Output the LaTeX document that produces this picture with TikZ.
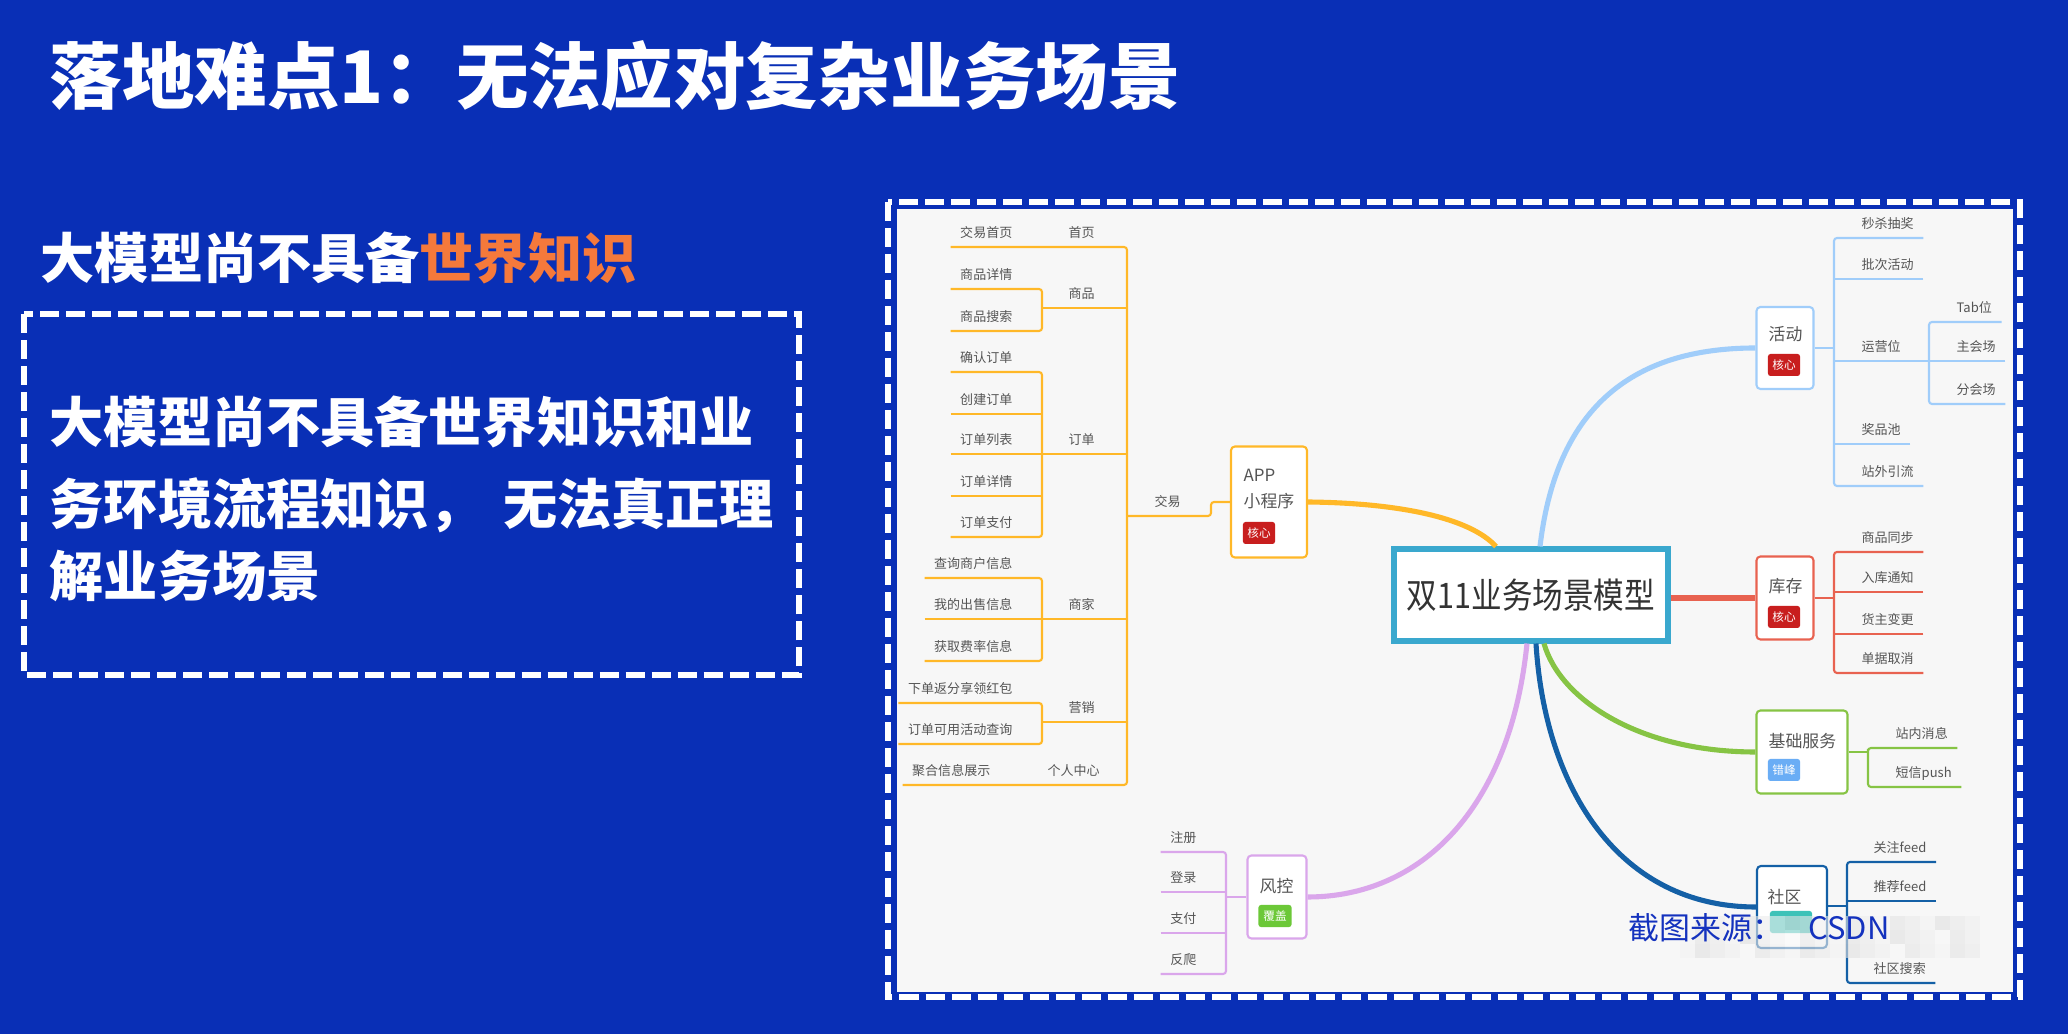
\documentclass[tikz,border=0pt]{standalone}
\usepackage{fontspec}
\usetikzlibrary{calc}
\newfontfamily\cjk{Noto Sans CJK SC}
\definecolor{slideblue}{RGB}{9,47,182}
\definecolor{hiorange}{RGB}{245,121,59}
\definecolor{shotgray}{RGB}{247,247,247}
\definecolor{textgray}{RGB}{85,85,85}
\definecolor{coreteal}{RGB}{58,168,206}
\definecolor{mmorange}{RGB}{255,184,40}
\definecolor{mmsky}{RGB}{160,205,250}
\definecolor{mmred}{RGB}{232,98,80}
\definecolor{mmgreen}{RGB}{134,196,68}
\definecolor{mmnavy}{RGB}{20,96,166}
\definecolor{mmpurple}{RGB}{218,166,235}
\definecolor{tagred}{RGB}{200,30,30}
\definecolor{taggreen}{RGB}{108,200,56}
\definecolor{tagblue}{RGB}{106,173,245}
\definecolor{tagteal}{RGB}{60,194,184}
\definecolor{markblue}{RGB}{20,50,190}
\newcommand{\titlefont}{\cjk\bfseries\fontsize{20.6pt}{24pt}\selectfont}
\newcommand{\subfont}{\cjk\bfseries\fontsize{15.4pt}{18pt}\selectfont}
\newcommand{\mmleaf}{\cjk\fontsize{3.7pt}{4.4pt}\selectfont}
\newcommand{\mmcat}{\cjk\fontsize{4.8pt}{8pt}\selectfont}
\newcommand{\mmbadge}{\cjk\fontsize{3.3pt}{4pt}\selectfont}
\newcommand{\mmcore}{\cjk\fontsize{10pt}{12pt}\selectfont}
\newcommand{\markfont}{\cjk\fontsize{8.8pt}{10pt}\selectfont}

\begin{document}
\begin{tikzpicture}[
    x=0.01cm, y=-0.01cm,
    % Styles
    leaf/.style={font=\mmleaf, text=textgray, inner xsep=0.09cm, inner ysep=0.07cm,
        text height=0.11cm, text depth=0.02cm, anchor=south east},
    rleaf/.style={leaf, anchor=south west},
    catbox/.style={draw=#1, line width=0.6pt, rounded corners=0.04cm, fill=white, inner sep=0pt},
    cattext/.style={font=\mmcat, text=textgray, inner sep=0pt, anchor=west, align=left},
    badge/.style={fill=#1, rounded corners=0.025cm, text=white, font=\mmbadge,
        minimum width=0.32cm, minimum height=0.22cm, inner sep=0pt},
    core/.style={draw=coreteal, line width=1.7pt, fill=white, minimum width=2.74cm,
        minimum height=0.91cm, inner sep=0pt, font=\mmcore, text=black!80},
    twig/.style={draw=#1, line width=0.6pt, rounded corners=0.03cm},
    bough/.style={draw=#1, line width=1.45pt},
    dashframe/.style={draw=white, line width=1.45pt, dash pattern=on 0.19cm off 0.07cm},
    slidetext/.style={anchor=west, inner sep=0pt, text=white, font=\subfont}
]

    % --- 1. Slide background and left column ---
    \useasboundingbox (0,0) rectangle (2068,1034);
    \fill[slideblue] (0,0) rectangle (2068,1034);

    \node[anchor=west, inner sep=0pt, text=white, font=\titlefont] (title) at (49,76)
        {落地难点1：无法应对复杂业务场景};
    \node[slidetext] (subtitle) at (40,258) {大模型尚不具备\textcolor{hiorange}{世界知识}};

    \draw[dashframe] (24,314) rectangle (799,675);
    \node[slidetext] (line1) at (49,422) {大模型尚不具备世界知识和业};
    \node[slidetext] (line2) at (49,505) {务环境流程知识，\hspace{0.08cm} 无法真正理};
    \node[slidetext] (line3) at (49,576) {解业务场景};

    % --- 2. Screenshot frame ---
    \fill[shotgray] (897,209) rectangle (2013,992);
    \draw[dashframe] (888,202) rectangle (2020,997);

    % --- 3. Centre and first-level nodes ---
    \node[core] (core) at (1531,595) {\scalebox{0.87}[1]{双11业务场景模型}};

    \node[catbox=mmorange, minimum width=0.76cm, minimum height=1.11cm] (app) at (1269,502) {};
    \node[cattext] (apptxt) at (1243,489) {APP\\[-0.4pt]小程序};
    \node[badge=tagred] (appb) at (1259,533) {核心};

    \node[catbox=mmpurple, minimum width=0.59cm, minimum height=0.83cm] (fengkong) at (1277,897) {};
    \node[cattext] (fktxt) at (1259,886) {风控};
    \node[badge=taggreen, minimum width=0.33cm] (fkb) at (1275,916) {覆盖};

    \node[catbox=mmsky, minimum width=0.57cm, minimum height=0.82cm] (huodong) at (1785,348) {};
    \node[cattext] (hdtxt) at (1768,334) {活动};
    \node[badge=tagred] (hdb) at (1784,365) {核心};

    \node[catbox=mmred, minimum width=0.57cm, minimum height=0.83cm] (kucun) at (1785,598) {};
    \node[cattext] (kctxt) at (1768,586) {库存};
    \node[badge=tagred] (kcb) at (1784,617) {核心};

    \node[catbox=mmgreen, minimum width=0.91cm, minimum height=0.83cm] (jichu) at (1802,752) {};
    \node[cattext] (jctxt) at (1768,741) {基础服务};
    \node[badge=tagblue] (jcb) at (1784,770) {错峰};

    \node[catbox=mmnavy, minimum width=0.70cm, minimum height=0.82cm] (shequ) at (1792,907) {};
    \node[cattext] (sqtxt) at (1767,897) {社区};
    \node[badge=tagteal, minimum width=0.42cm] (sqb) at (1791,922) {};

    % thick branches from the centre
    \draw[bough=mmorange] (app.east) .. controls (1400,503) and (1470,518) .. ($(core.north)+(-35,0)$);
    \draw[bough=mmsky] ($(core.north)+(9,0)$) .. controls (1555,420) and (1620,348) .. (huodong.west);
    \draw[bough=mmred] (kucun.west -| core.east) -- (kucun.west);
    \draw[bough=mmgreen] ($(core.south)+(13,0)$) .. controls (1560,700) and (1640,752) .. (jichu.west);
    \draw[bough=mmnavy] ($(core.south)+(5,0)$) .. controls (1545,790) and (1620,907) .. (shequ.west);
    \draw[bough=mmpurple] (fengkong.east) .. controls (1420,897) and (1510,810) .. ($(core.south)+(-4,0)$);

    % --- 4. APP / mini program subtree ---
    \coordinate (jy) at (1127,516);
    \coordinate (jyk) at (1211,516);
    \node[rleaf] (jyl) at (1145,516) {交易};
    \draw[twig=mmorange] (jy) -- (jyk) |- (app.west);

    \node[leaf] (jysy) at (1022,247) {交易首页};
    \node[rleaf] (sy) at (1059,247) {首页};
    \node[leaf] (jhzs) at (1000,785) {聚合信息展示};
    \node[rleaf] (grzx) at (1038,785) {个人中心};
    \draw[twig=mmorange] (jysy.south west) -| (jy) |- (jhzs.south west);

    \node[leaf] (spxq) at (1022,289) {商品详情};
    \node[leaf] (spss) at (1022,331) {商品搜索};
    \coordinate (spj) at (1042,308);
    \node[rleaf] (sp) at (1059,308) {商品};
    \draw[twig=mmorange] (spxq.south west) -| (spj) |- (spss.south west);
    \draw[twig=mmorange] (spj) -- (spj -| jy);

    \node[leaf] (qrdd) at (1022,372) {确认订单};
    \node[leaf] (cjdd) at (1022,414) {创建订单};
    \node[leaf] (ddlb) at (1022,454) {订单列表};
    \node[leaf] (ddxq) at (1022,496) {订单详情};
    \node[leaf] (ddzf) at (1022,537) {订单支付};
    \coordinate (ddj) at (1042,454);
    \node[rleaf] (dd) at (1059,454) {订单};
    \draw[twig=mmorange] (qrdd.south west) -| (ddj) |- (ddzf.south west);
    \draw[twig=mmorange] (cjdd.south west) -- (cjdd.south west -| ddj);
    \draw[twig=mmorange] (ddlb.south west) -- (ddlb.south west -| jy);
    \draw[twig=mmorange] (ddxq.south west) -- (ddxq.south west -| ddj);

    \node[leaf] (cxsh) at (1022,578) {查询商户信息};
    \node[leaf] (wdcs) at (1022,619) {我的出售信息};
    \node[leaf] (hqfl) at (1022,661) {获取费率信息};
    \coordinate (sjj) at (1042,619);
    \node[rleaf] (sj) at (1059,619) {商家};
    \draw[twig=mmorange] (cxsh.south west) -| (sjj) |- (hqfl.south west);
    \draw[twig=mmorange] (wdcs.south west) -- (wdcs.south west -| jy);

    \node[leaf] (xdfx) at (1022,703) {下单返分享领红包};
    \node[leaf] (ddky) at (1022,744) {订单可用活动查询};
    \coordinate (yxj) at (1042,722);
    \node[rleaf] (yx) at (1059,722) {营销};
    \draw[twig=mmorange] (xdfx.south west) -| (yxj) |- (ddky.south west);
    \draw[twig=mmorange] (yxj) -- (yxj -| jy);

    % --- 5. Risk control subtree ---
    \node[leaf] (zc) at (1206,852) {注册};
    \node[leaf] (dl) at (1206,892) {登录};
    \node[leaf] (zf) at (1206,933) {支付};
    \node[leaf] (fp) at (1206,974) {反爬};
    \coordinate (fkj) at (1226,897);
    \draw[twig=mmpurple] (zc.south west) -| (fkj) |- (fp.south west);
    \draw[twig=mmpurple] (dl.south west) -- (dl.south west -| fkj);
    \draw[twig=mmpurple] (zf.south west) -- (zf.south west -| fkj);
    \draw[twig=mmpurple] (fkj) -- (fengkong.west);

    % --- 6. Activity subtree ---
    \node[rleaf] (mszj) at (1852,238) {秒杀抽奖};
    \node[rleaf] (pchd) at (1852,279) {批次活动};
    \node[rleaf] (yyw) at (1852,361) {运营位};
    \node[rleaf] (jpc) at (1852,444) {奖品池};
    \node[rleaf] (zwyl) at (1852,486) {站外引流};
    \coordinate (hdj) at (1834,348);
    \draw[twig=mmsky] (mszj.south east) -| (hdj) |- (zwyl.south east);
    \draw[twig=mmsky] (pchd.south east) -- (pchd.south east -| hdj);
    \draw[twig=mmsky] (jpc.south east) -- (jpc.south east -| hdj);
    \draw[twig=mmsky] (huodong.east) -- (hdj);

    \node[rleaf] (tab) at (1947,322) {Tab位};
    \node[rleaf] (zhc) at (1947,361) {主会场};
    \node[rleaf] (fhc) at (1947,404) {分会场};
    \coordinate (yywj) at (1929,361);
    \draw[twig=mmsky] (tab.south east) -| (yywj) |- (fhc.south east);
    \draw[twig=mmsky] (zhc.south east) -- (yywj);
    \draw[twig=mmsky] (yyw.south west -| hdj) -- (yywj);

    % --- 7. Stock subtree ---
    \node[rleaf] (spty) at (1852,552) {商品同步};
    \node[rleaf] (rktz) at (1852,592) {入库通知};
    \node[rleaf] (hzbg) at (1852,634) {货主变更};
    \node[rleaf] (djqx) at (1852,673) {单据取消};
    \coordinate (kcj) at (1834,598);
    \draw[twig=mmred] (spty.south east) -| (kcj) |- (djqx.south east);
    \draw[twig=mmred] (rktz.south east) -- (rktz.south east -| kcj);
    \draw[twig=mmred] (hzbg.south east) -- (hzbg.south east -| kcj);
    \draw[twig=mmred] (kucun.east) -- (kcj);

    % --- 8. Basic services subtree ---
    \node[rleaf] (znxx) at (1886,748) {站内消息};
    \node[rleaf] (dxps) at (1886,787) {短信push};
    \coordinate (jcj) at (1868,752);
    \draw[twig=mmgreen] (znxx.south east) -| (jcj) |- (dxps.south east);
    \draw[twig=mmgreen] (jichu.east) -- (jcj);

    % --- 9. Community subtree ---
    \node[rleaf] (gzfd) at (1864,862) {关注feed};
    \node[rleaf] (tjfd) at (1864,901) {推荐feed};
    \node[rleaf] (sqss) at (1864,983) {社区搜索};
    \coordinate (sqj) at (1847,906);
    \draw[twig=mmnavy] (gzfd.south east) -| (sqj) |- (sqss.south east);
    \draw[twig=mmnavy] (tjfd.south east) -- (tjfd.south east -| sqj);
    \draw[twig=mmnavy] (shequ.east |- sqj) -- (sqj);

    % --- 10. Blurred source mark ---
    \foreach \i in {0,...,19}
      \foreach \j in {0,1,2} {
        \pgfmathtruncatemacro\shade{3+mod(\i*7+\j*11,10)}
        \fill[black!\shade, opacity=0.6] (1680+\i*15,916+\j*14) rectangle ++(15,14);
      }
    \node[anchor=west, inner sep=0pt, text=markblue, font=\markfont] (mark) at (1628,928)
        {截图来源：\hspace{0.18cm} CSDN};

\end{tikzpicture}
\end{document}
